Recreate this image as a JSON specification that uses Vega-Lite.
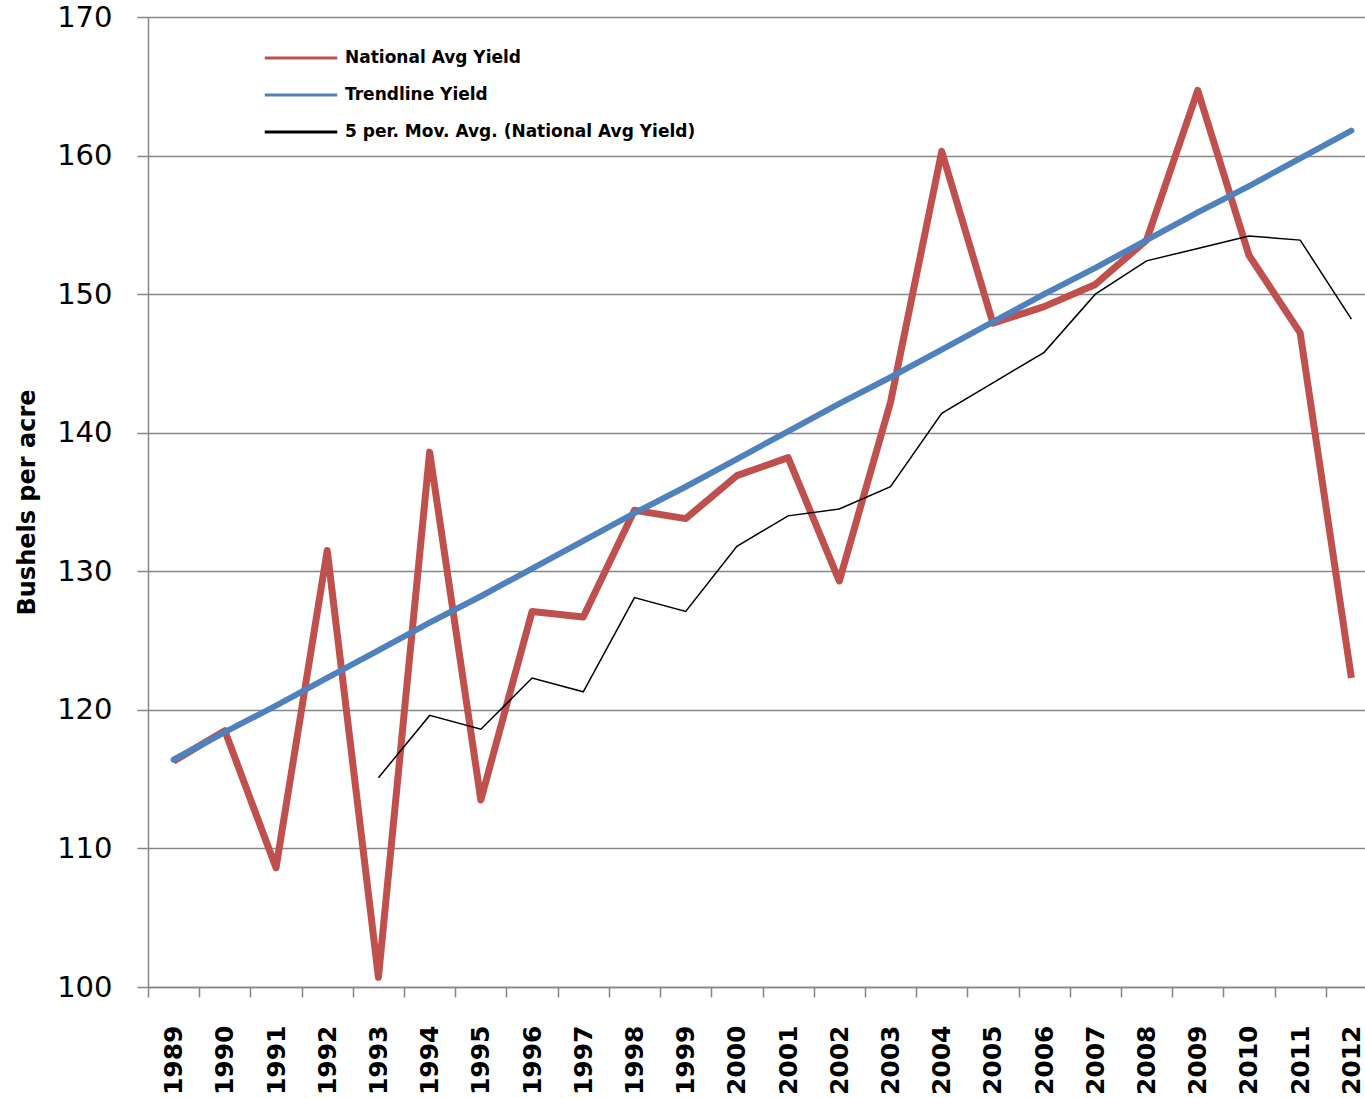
{
  "$schema": "https://vega.github.io/schema/vega-lite/v6.json",
  "autosize": {"type": "none"},
  "width": 1229,
  "height": 970,
  "padding": {"left": 148, "top": 17, "right": -12, "bottom": 111},
  "background": "white",
  "config": {"view": {"stroke": null}, "font": "DejaVu Sans"},
  "data": {"values": [
    {"year": "1989", "series": "National Avg Yield", "value": 116.3},
    {"year": "1990", "series": "National Avg Yield", "value": 118.5},
    {"year": "1991", "series": "National Avg Yield", "value": 108.6},
    {"year": "1992", "series": "National Avg Yield", "value": 131.5},
    {"year": "1993", "series": "National Avg Yield", "value": 100.7},
    {"year": "1994", "series": "National Avg Yield", "value": 138.6},
    {"year": "1995", "series": "National Avg Yield", "value": 113.5},
    {"year": "1996", "series": "National Avg Yield", "value": 127.1},
    {"year": "1997", "series": "National Avg Yield", "value": 126.7},
    {"year": "1998", "series": "National Avg Yield", "value": 134.4},
    {"year": "1999", "series": "National Avg Yield", "value": 133.8},
    {"year": "2000", "series": "National Avg Yield", "value": 136.9},
    {"year": "2001", "series": "National Avg Yield", "value": 138.2},
    {"year": "2002", "series": "National Avg Yield", "value": 129.3},
    {"year": "2003", "series": "National Avg Yield", "value": 142.2},
    {"year": "2004", "series": "National Avg Yield", "value": 160.3},
    {"year": "2005", "series": "National Avg Yield", "value": 147.9},
    {"year": "2006", "series": "National Avg Yield", "value": 149.1},
    {"year": "2007", "series": "National Avg Yield", "value": 150.7},
    {"year": "2008", "series": "National Avg Yield", "value": 153.9},
    {"year": "2009", "series": "National Avg Yield", "value": 164.7},
    {"year": "2010", "series": "National Avg Yield", "value": 152.8},
    {"year": "2011", "series": "National Avg Yield", "value": 147.2},
    {"year": "2012", "series": "National Avg Yield", "value": 122.3},
    {"year": "1989", "series": "Trendline Yield", "value": 116.4},
    {"year": "1990", "series": "Trendline Yield", "value": 118.4},
    {"year": "1991", "series": "Trendline Yield", "value": 120.3},
    {"year": "1992", "series": "Trendline Yield", "value": 122.3},
    {"year": "1993", "series": "Trendline Yield", "value": 124.3},
    {"year": "1994", "series": "Trendline Yield", "value": 126.3},
    {"year": "1995", "series": "Trendline Yield", "value": 128.2},
    {"year": "1996", "series": "Trendline Yield", "value": 130.2},
    {"year": "1997", "series": "Trendline Yield", "value": 132.2},
    {"year": "1998", "series": "Trendline Yield", "value": 134.2},
    {"year": "1999", "series": "Trendline Yield", "value": 136.1},
    {"year": "2000", "series": "Trendline Yield", "value": 138.1},
    {"year": "2001", "series": "Trendline Yield", "value": 140.1},
    {"year": "2002", "series": "Trendline Yield", "value": 142.1},
    {"year": "2003", "series": "Trendline Yield", "value": 144.0},
    {"year": "2004", "series": "Trendline Yield", "value": 146.0},
    {"year": "2005", "series": "Trendline Yield", "value": 148.0},
    {"year": "2006", "series": "Trendline Yield", "value": 150.0},
    {"year": "2007", "series": "Trendline Yield", "value": 151.9},
    {"year": "2008", "series": "Trendline Yield", "value": 153.9},
    {"year": "2009", "series": "Trendline Yield", "value": 155.9},
    {"year": "2010", "series": "Trendline Yield", "value": 157.8},
    {"year": "2011", "series": "Trendline Yield", "value": 159.8},
    {"year": "2012", "series": "Trendline Yield", "value": 161.8},
    {"year": "1993", "series": "5 per. Mov. Avg. (National Avg Yield)", "value": 115.1},
    {"year": "1994", "series": "5 per. Mov. Avg. (National Avg Yield)", "value": 119.6},
    {"year": "1995", "series": "5 per. Mov. Avg. (National Avg Yield)", "value": 118.6},
    {"year": "1996", "series": "5 per. Mov. Avg. (National Avg Yield)", "value": 122.3},
    {"year": "1997", "series": "5 per. Mov. Avg. (National Avg Yield)", "value": 121.3},
    {"year": "1998", "series": "5 per. Mov. Avg. (National Avg Yield)", "value": 128.1},
    {"year": "1999", "series": "5 per. Mov. Avg. (National Avg Yield)", "value": 127.1},
    {"year": "2000", "series": "5 per. Mov. Avg. (National Avg Yield)", "value": 131.8},
    {"year": "2001", "series": "5 per. Mov. Avg. (National Avg Yield)", "value": 134.0},
    {"year": "2002", "series": "5 per. Mov. Avg. (National Avg Yield)", "value": 134.5},
    {"year": "2003", "series": "5 per. Mov. Avg. (National Avg Yield)", "value": 136.1},
    {"year": "2004", "series": "5 per. Mov. Avg. (National Avg Yield)", "value": 141.4},
    {"year": "2005", "series": "5 per. Mov. Avg. (National Avg Yield)", "value": 143.6},
    {"year": "2006", "series": "5 per. Mov. Avg. (National Avg Yield)", "value": 145.8},
    {"year": "2007", "series": "5 per. Mov. Avg. (National Avg Yield)", "value": 150.0},
    {"year": "2008", "series": "5 per. Mov. Avg. (National Avg Yield)", "value": 152.4},
    {"year": "2009", "series": "5 per. Mov. Avg. (National Avg Yield)", "value": 153.3},
    {"year": "2010", "series": "5 per. Mov. Avg. (National Avg Yield)", "value": 154.2},
    {"year": "2011", "series": "5 per. Mov. Avg. (National Avg Yield)", "value": 153.9},
    {"year": "2012", "series": "5 per. Mov. Avg. (National Avg Yield)", "value": 148.2}
  ]},
  "encoding": {
    "x": {
      "field": "year", "type": "ordinal", "bandPosition": 0.5,
      "scale": {"type": "band", "paddingInner": 0, "paddingOuter": 0},
      "axis": {
        "title": null, "labelAngle": -90, "labelFont": "DejaVu Sans", "labelFontWeight": "bold",
        "labelFontSize": 25, "labelColor": "black", "labelPadding": 28,
        "tickBand": "extent", "tickSize": 10, "tickColor": "#868686", "tickWidth": 1.5,
        "domainColor": "#868686", "domainWidth": 1.5, "grid": false
      }
    },
    "y": {
      "field": "value", "type": "quantitative",
      "scale": {"domain": [100, 170], "nice": false, "zero": false},
      "axis": {
        "title": "Bushels per acre", "titleFont": "DejaVu Sans", "titleFontSize": 24,
        "titleFontWeight": "bold", "titleColor": "black", "titlePadding": 17,
        "values": [100, 110, 120, 130, 140, 150, 160, 170],
        "labelFont": "DejaVu Sans", "labelFontSize": 29, "labelColor": "black", "labelPadding": 25,
        "tickSize": 11, "tickColor": "#868686", "tickWidth": 1.5,
        "grid": true, "gridColor": "#868686", "gridWidth": 1.5,
        "domainColor": "#868686", "domainWidth": 1.5
      }
    },
    "color": {
      "field": "series", "type": "nominal",
      "scale": {
        "domain": ["National Avg Yield", "Trendline Yield", "5 per. Mov. Avg. (National Avg Yield)"],
        "range": ["#c0504d", "#4f81bd", "#000000"]
      },
      "legend": {
        "title": null, "orient": "none", "legendX": 137, "legendY": 25,
        "symbolType": "M-2.5,0H2.5", "symbolSize": 841, "symbolStrokeWidth": 3,
        "labelFont": "DejaVu Sans", "labelFontSize": 17, "labelFontWeight": "bold", "labelColor": "black",
        "labelOffset": 28, "labelLimit": 0, "rowPadding": 13, "padding": 0
      }
    }
  },
  "layer": [
    {
      "transform": [{"filter": "datum.series === 'National Avg Yield'"}],
      "mark": {"type": "line", "strokeWidth": 7, "strokeJoin": "round"}
    },
    {
      "transform": [{"filter": "datum.series === 'Trendline Yield'"}],
      "mark": {"type": "line", "strokeWidth": 6, "strokeCap": "round"}
    },
    {
      "transform": [{"filter": "datum.series === '5 per. Mov. Avg. (National Avg Yield)'"}],
      "mark": {"type": "line", "strokeWidth": 1.5}
    }
  ]
}
